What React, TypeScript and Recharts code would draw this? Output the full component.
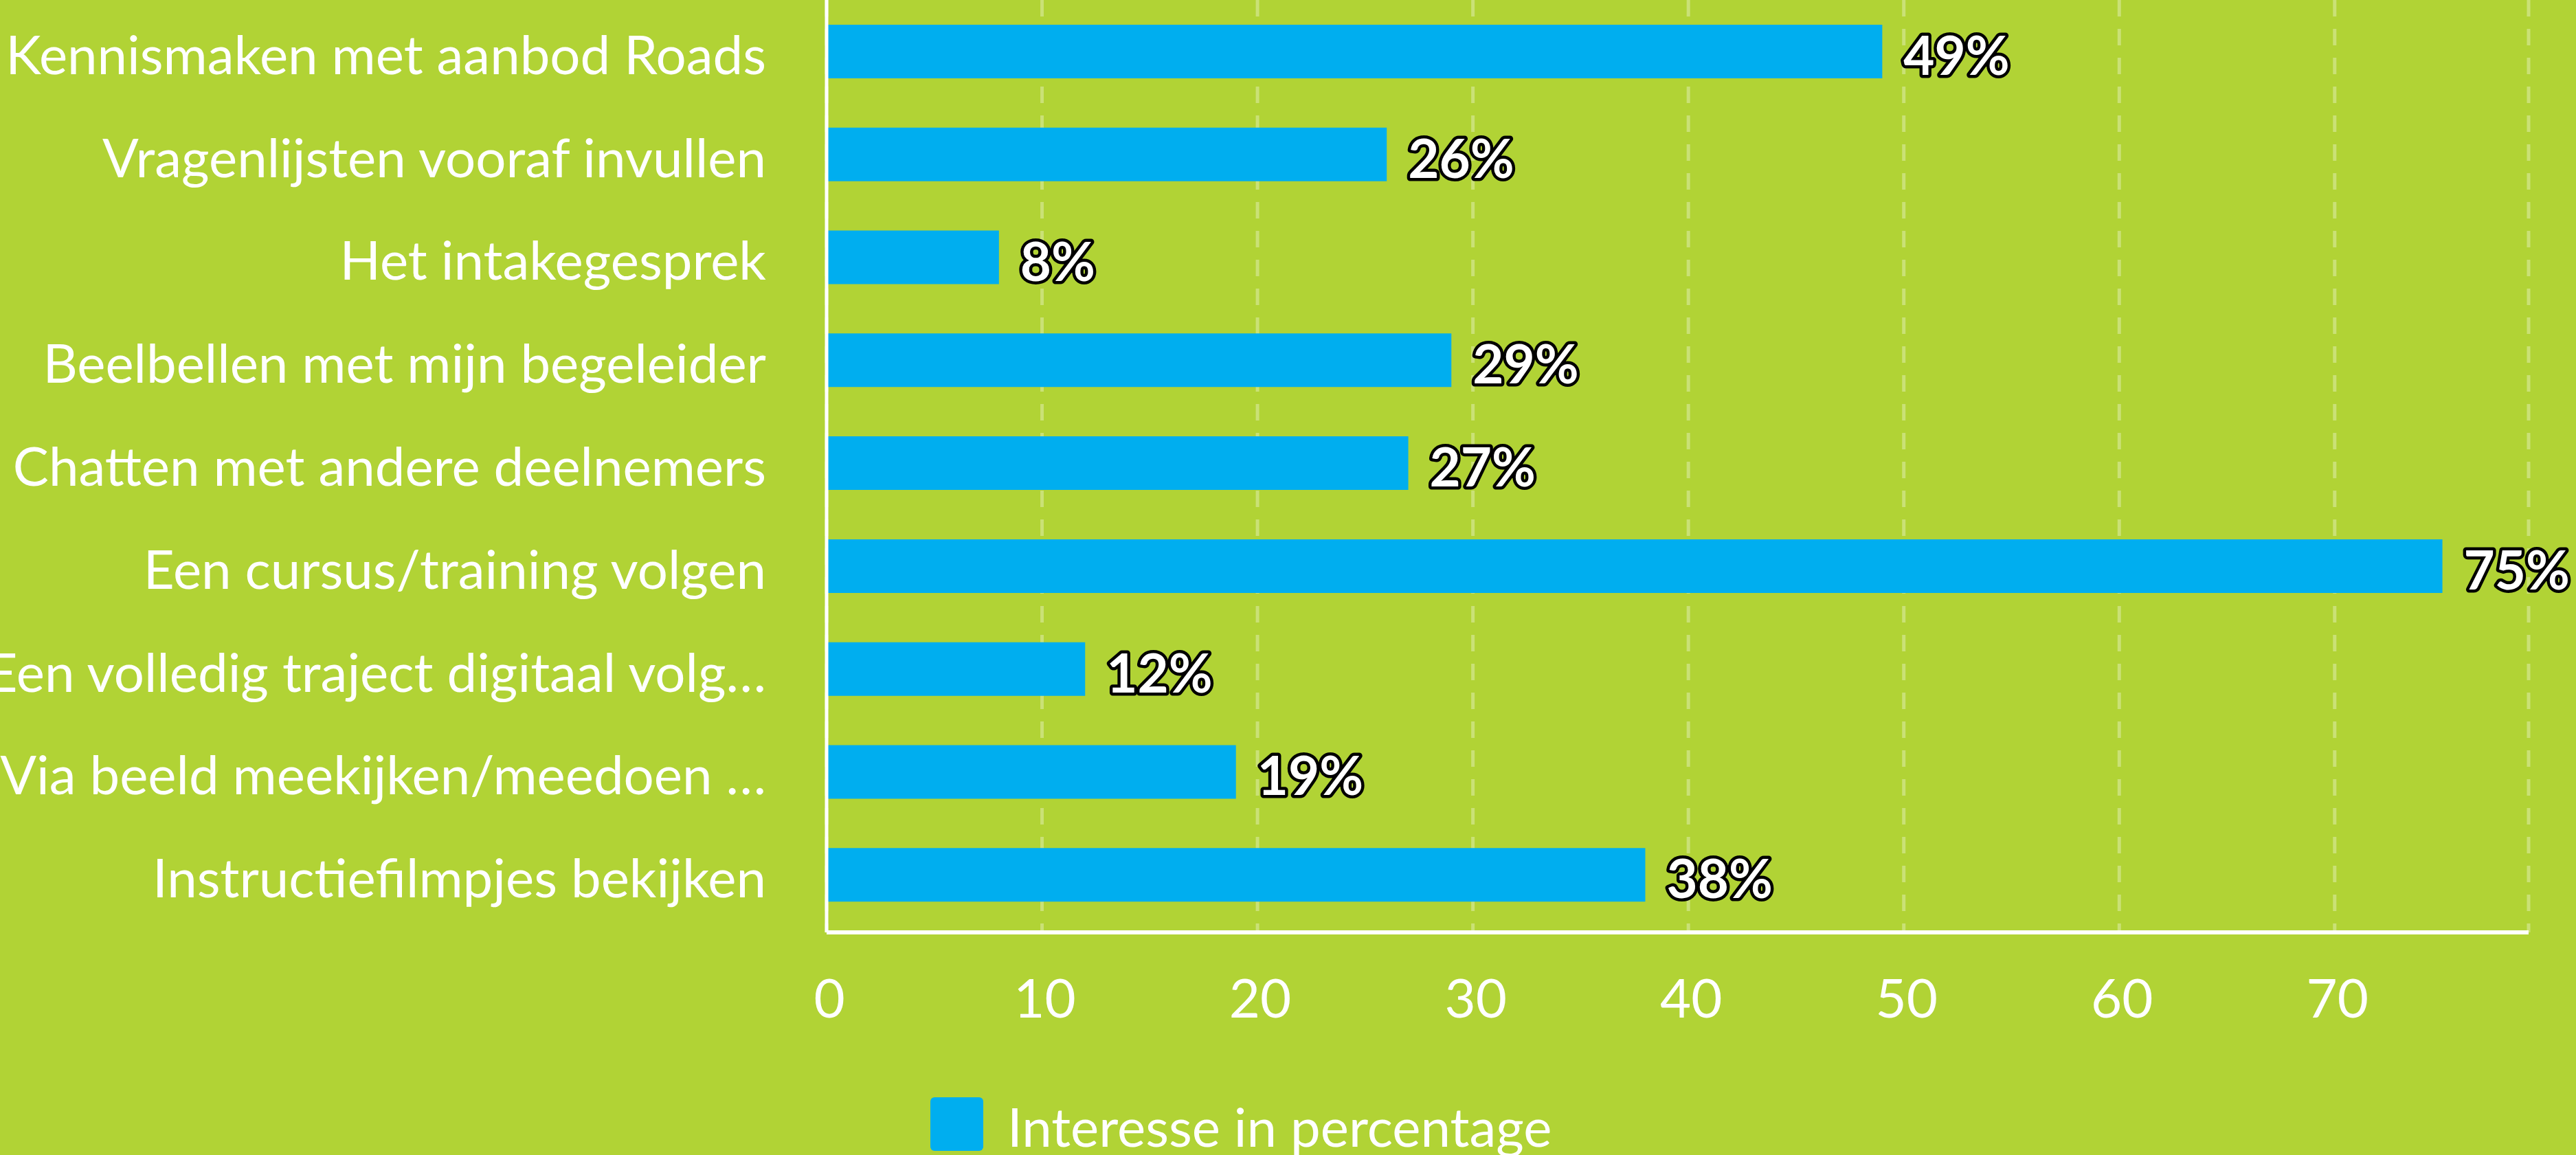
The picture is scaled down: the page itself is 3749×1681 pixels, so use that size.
import React from 'react';
import { BarChart, Bar, XAxis, YAxis, CartesianGrid, LabelList, Legend } from 'recharts';

const categories = [
  'Kennismaken met aanbod Roads',
  'Vragenlijsten vooraf invullen',
  'Het intakegesprek',
  'Beelbellen met mijn begeleider',
  'Chatten met andere deelnemers',
  'Een cursus/training volgen',
  'Een volledig traject digitaal volg…',
  'Via beeld meekijken/meedoen …',
  'Instructiefilmpjes bekijken',
];
const values = [49, 26, 8, 29, 27, 75, 12, 19, 38];
const xTicks = [0, 10, 20, 30, 40, 50, 60, 70];
const seriesName = 'Interesse in percentage';

const data = categories.map((c, i) => ({ name: c, value: values[i] }));

const BG = '#B1D335';
const BAR = '#00AEEF';
const FONT = 'Lato, "Open Sans", sans-serif';

const YTick = (props: any) => {
  const { x, y, payload } = props;
  return (
    <text x={x} y={y} dy={33} textAnchor="end" fill="#fff" fontSize={78} fontFamily={FONT}>
      {payload.value}
    </text>
  );
};

const XTick = (props: any) => {
  const { x, y, payload } = props;
  return (
    <text x={Number(x) + 4} y={y} dy={55} textAnchor="middle" fill="#fff" fontSize={78} fontFamily={FONT}>
      {payload.value}
    </text>
  );
};

const ValueLabel = (props: any) => {
  const { x, y, width, height, value } = props;
  return (
    <text
      x={Number(x) + Number(width) + 31}
      y={Number(y) + Number(height) / 2}
      dy={34}
      textAnchor="start"
      fill="#fff"
      stroke="#000"
      strokeWidth={9}
      strokeLinejoin="round"
      paintOrder="stroke"
      fontSize={78}
      fontWeight={700}
      fontFamily={FONT}
    >
      {`${value}%`}
    </text>
  );
};

const LegendContent = () => (
  <div style={{ display: 'flex', alignItems: 'center' }}>
    <div style={{ width: 77, height: 78, background: BAR, borderRadius: 6 }} />
    <span
      style={{
        marginLeft: 35,
        fontSize: 78,
        lineHeight: '78px',
        color: '#fff',
        fontFamily: FONT,
        paddingTop: 6,
        whiteSpace: 'nowrap',
      }}
    >
      {seriesName}
    </span>
  </div>
);

export default function App() {
  return (
    <div
      style={{
        position: 'fixed',
        left: 0,
        top: 0,
        width: 3749,
        height: 1681,
        background: BG,
        overflow: 'hidden',
      }}
    >
      <BarChart
        width={3749}
        height={1681}
        data={data}
        layout="vertical"
        margin={{ top: 0, right: 69, bottom: 0, left: 0 }}
        barCategoryGap={0}
      >
        <CartesianGrid
          horizontal={false}
          vertical={true}
          stroke="rgba(255,255,255,0.32)"
          strokeWidth={5}
          strokeDasharray="24 18"
        />
        <XAxis
          type="number"
          domain={[0, 79]}
          ticks={xTicks}
          allowDataOverflow
          height={324}
          tickLine={false}
          tickSize={0}
          tickMargin={69}
          axisLine={{ stroke: '#fff', strokeWidth: 6 }}
          tick={<XTick />}
        />
        <YAxis
          type="category"
          dataKey="name"
          width={1203}
          padding={{ top: 0, bottom: 9 }}
          tickLine={false}
          tickSize={0}
          tickMargin={88}
          axisLine={{ stroke: '#fff', strokeWidth: 5 }}
          tick={<YTick />}
          interval={0}
        />
        <Legend
          layout="horizontal"
          verticalAlign="middle"
          align="center"
          wrapperStyle={{ left: 1354, top: 1594, width: 'auto', height: 'auto' }}
          content={<LegendContent />}
        />
        <Bar dataKey="value" name={seriesName} fill={BAR} barSize={78} isAnimationActive={false}>
          <LabelList dataKey="value" content={<ValueLabel />} />
        </Bar>
      </BarChart>
    </div>
  );
}
